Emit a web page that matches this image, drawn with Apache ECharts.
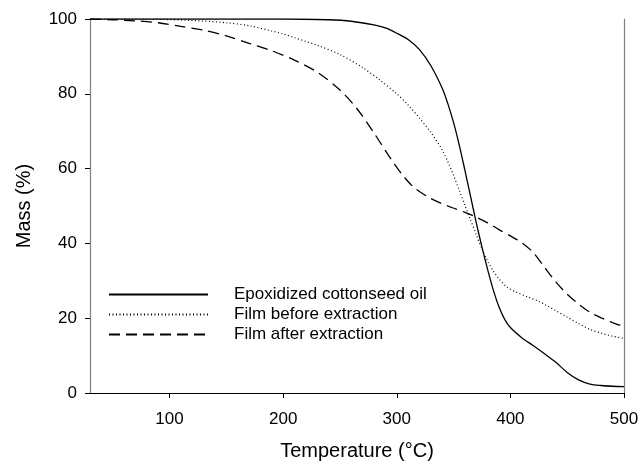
<!DOCTYPE html>
<html>
<head>
<meta charset="utf-8">
<script src="https://cdn.jsdelivr.net/npm/echarts@6/dist/echarts.min.js"></script>
<style>
html,body{margin:0;padding:0;background:#fff;}
#chart{width:641px;height:462px;}
</style>
</head>
<body>
<div id="chart"></div>
<script>
var seriesNames = ["Epoxidized cottonseed oil", "Film before extraction", "Film after extraction"];

var oilT = [30,100,200,240,260,280,290,300,310,320,330,340,345,350,355,360,365,370,375,380,385,390,395,400,410,420,430,440,450,460,470,480,490,500];
var oilM = [100,100,100,99.8,99.4,98.4,97.6,96.2,94.5,91.8,87.5,81.5,77.3,72.3,66.3,59.5,52.5,45.5,39,33,27.5,23,19.7,17.5,14.8,12.7,10.5,8.2,5.5,3.5,2.4,2,1.8,1.7];

var beforeT = [30,60,90,120,150,170,190,200,210,220,230,250,270,285,300,310,320,330,340,345,350,355,360,365,370,375,380,385,390,397,405,415,425,432,440,450,460,470,480,490,500];
var beforeM = [100,100,99.9,99.6,99,98.2,96.8,96,95,94,93,90.5,87,83.7,80,77,73.5,69.7,65,61.8,58.2,54.2,50.2,46.2,42.3,38.5,35.2,32.6,30.5,28.3,27,25.7,24.5,23.4,22,20.3,18.6,17,16,15.2,14.6];

var afterT = [30,50,70,90,110,130,150,170,190,210,230,250,265,280,295,305,315,330,345,360,370,380,390,400,410,420,430,440,450,460,470,480,490,500];
var afterM = [100,99.8,99.5,99,98,97,95.5,93.5,91.5,89,85.8,81,76,69.5,62.5,58.3,55,52,50,48.3,47,45.5,43.7,42,40.2,37.6,33.6,29.7,26.4,23.8,21.6,20.1,18.8,17.7];

var xTicks = [100,200,300,400,500];
var yTicks = [0,20,40,60,80,100];

function pairs(xs, ys){ return xs.map(function(x,i){ return [x, ys[i]]; }); }

var font = 'Liberation Sans, Arial, sans-serif';
var chart = echarts.init(document.getElementById('chart'), null, {renderer:'canvas'});
chart.setOption({
  animation:false,
  backgroundColor:'#fff',
  grid:{left:90,right:17,top:19,bottom:69,containLabel:false,outerBoundsMode:'none'},
  legend:{
    orient:'vertical', left:103, top:281,
    itemWidth:99, itemHeight:14, itemGap:3,
    itemStyle:{opacity:0},
    textStyle:{fontFamily:font,fontSize:17,lineHeight:14,color:'#000',padding:[0,0,0,21]},
    data:seriesNames
  },
  xAxis:[{
    type:'value', min:30, max:500,
    name:'Temperature (°C)', nameLocation:'middle', nameGap:48,
    nameTextStyle:{fontFamily:font,fontSize:20,color:'#000'},
    axisLine:{show:true,lineStyle:{color:'#000',width:1.2}},
    axisTick:{show:true,length:5,inside:false,customValues:xTicks,lineStyle:{color:'#000'}},
    axisLabel:{fontFamily:font,fontSize:17,color:'#000',margin:18,customValues:xTicks},
    splitLine:{show:false}
  },{
    type:'value', min:30, max:500, position:'top',
    axisLine:{show:true,lineStyle:{color:'#000',width:1.2}},
    axisTick:{show:false}, axisLabel:{show:false}, splitLine:{show:false}
  }],
  yAxis:[{
    type:'value', min:0, max:100, interval:20,
    name:'Mass (%)', nameLocation:'middle', nameGap:56, nameRotate:90,
    nameTextStyle:{fontFamily:font,fontSize:20,color:'#000'},
    axisLine:{show:true,lineStyle:{color:'#808080',width:1.2}},
    axisTick:{show:true,length:5,lineStyle:{color:'#000'}},
    axisLabel:{fontFamily:font,fontSize:17,color:'#000',margin:13,
      customValues:yTicks},
    splitLine:{show:false}
  },{
    type:'value', min:0, max:100, position:'right',
    axisLine:{show:true,lineStyle:{color:'#808080',width:1.2}},
    axisTick:{show:false}, axisLabel:{show:false}, splitLine:{show:false}
  }],
  series:[{
    name:seriesNames[0], type:'line', showSymbol:false, symbol:'none',
    smooth:0.3,
    lineStyle:{color:'#000',width:1.3,type:'solid'},
    itemStyle:{color:'#000'},
    data:pairs(oilT, oilM)
  },{
    name:seriesNames[1], type:'line', showSymbol:false, symbol:'none',
    smooth:0.3,
    lineStyle:{color:'#000',width:1.2,type:[1,2.5]},
    itemStyle:{color:'#000'},
    data:pairs(beforeT, beforeM)
  },{
    name:seriesNames[2], type:'line', showSymbol:false, symbol:'none',
    smooth:0.3,
    lineStyle:{color:'#000',width:1.3,type:[11,6]},
    itemStyle:{color:'#000'},
    data:pairs(afterT, afterM)
  }]
});
</script>
</body>
</html>
